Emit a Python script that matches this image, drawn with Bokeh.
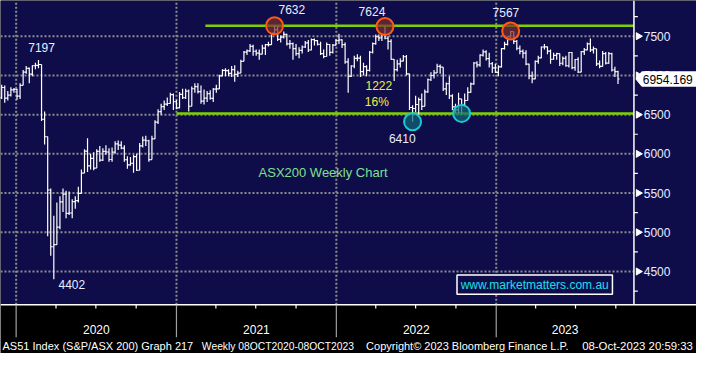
import numpy as np
import pandas as pd
from bokeh.plotting import figure
from bokeh.models import Range1d, ColumnDataSource
from bokeh.core.properties import value
from bokeh.embed import file_html
from bokeh.resources import INLINE

# ---------------- data (weekly bars, week ending Friday) ----------------
first_week = "2019-11-22"
last_week = "2023-10-06"

closes = [
    # 2019
    6717, 6846, 6711, 6750, 6816, 6821,
    # 2020
    6735, 6874, 7041, 7090, 7017, 7123, 7129, 7139, 6441, 6218, 5539, 4816, 4842,
    5067, 5387, 5487, 5242, 5246, 5391, 5405, 5497, 5755, 6036, 5847, 5942, 5819,
    6032, 5920, 6032, 6024, 5928, 6021, 6127, 6111, 6073, 5925, 5859, 5880, 5964,
    5791, 6102, 6176, 6167, 5927, 6190, 6405, 6539, 6601, 6635, 6642, 6756, 6664, 6587,
    # 2021
    6758, 6715, 6800, 6607, 6830, 6856, 6793, 6673, 6711, 6767, 6708, 6824, 6828,
    6995, 7063, 7061, 7025, 7073, 7014, 7030, 7179, 7296, 7312, 7369, 7308, 7285,
    7272, 7348, 7393, 7392, 7538, 7584, 7460, 7488, 7522, 7403, 7404, 7342, 7277,
    7320, 7362, 7415, 7324, 7457, 7443, 7397, 7279, 7241, 7394, 7293, 7387, 7444,
    # 2022
    7453, 7393, 7173, 6988, 7120, 7217, 7221, 7049, 7111, 7063, 7295, 7406, 7493,
    7478, 7523, 7474, 7435, 7205, 7075, 7146, 7182, 7238, 7020, 6591, 6578, 6629,
    6692, 6606, 6791, 6945, 6999, 7033, 7115, 7105, 6828, 6894, 6740, 6600, 6560,
    6700, 6620, 6680, 6785, 6893, 7158, 7135, 7259, 7301, 7213, 7149, 7095, 7039,
    # 2023
    7110, 7342, 7395, 7493, 7559, 7433, 7346, 7307, 7283, 7144, 6995, 6955, 7178,
    7223, 7362, 7365, 7309, 7206, 7256, 7279, 7155, 7217, 7123, 7292, 7099, 7203,
    7042, 7303, 7325, 7403, 7325, 7340, 7148, 7115, 7279, 7157, 7279, 7069, 7048, 6954,
]

highs = [
    6780, 6880, 6870, 6800, 6850, 6840,
    6830, 6900, 7070, 7120, 7100, 7130, 7160, 7197, 7140, 6540, 6220, 5560, 5210,
    5380, 5460, 5560, 5530, 5520, 5420, 5460, 5580, 5800, 6060, 6200, 6000, 6020,
    6060, 6100, 6070, 6110, 6070, 6080, 6160, 6170, 6160, 6110, 5970, 5960, 5990,
    6000, 6140, 6220, 6230, 6180, 6230, 6430, 6570, 6640, 6680, 6720, 6780, 6770, 6690,
    6790, 6830, 6830, 6820, 6860, 6900, 6900, 6870, 6820, 6800, 6810, 6840, 6880,
    7010, 7080, 7090, 7080, 7120, 7130, 7060, 7200, 7310, 7330, 7400, 7390, 7330,
    7330, 7390, 7400, 7430, 7540, 7632, 7630, 7510, 7560, 7530, 7450, 7420, 7400,
    7360, 7380, 7440, 7450, 7470, 7470, 7450, 7430, 7330, 7420, 7400, 7400, 7460,
    7530, 7460, 7420, 7220, 7130, 7250, 7270, 7250, 7160, 7130, 7310, 7420, 7520,
    7520, 7540, 7624, 7500, 7460, 7180, 7200, 7220, 7260, 7260, 7000, 6620, 6740,
    6720, 6770, 6820, 6960, 7040, 7070, 7150, 7140, 7100, 6910, 6990, 6760, 6640,
    6780, 6700, 6770, 6850, 6910, 7170, 7180, 7270, 7330, 7320, 7290, 7170, 7150,
    7130, 7350, 7430, 7500, 7567, 7560, 7450, 7380, 7330, 7320, 7150, 7050, 7190,
    7250, 7370, 7400, 7370, 7330, 7290, 7290, 7260, 7240, 7250, 7300, 7300, 7210,
    7230, 7310, 7350, 7420, 7470, 7370, 7340, 7190, 7310, 7300, 7300, 7290, 7110, 7060,
]

lows = [
    6690, 6700, 6650, 6680, 6730, 6780,
    6690, 6700, 6880, 7020, 6900, 6990, 7080, 7090, 6420, 6120, 4950, 4700, 4402,
    4950, 5040, 5260, 5180, 5220, 5180, 5300, 5380, 5500, 5760, 5770, 5800, 5790,
    5830, 5900, 5910, 5990, 5900, 5900, 6000, 6050, 6060, 5900, 5810, 5850, 5760,
    5780, 5800, 6080, 6100, 5900, 5930, 6190, 6380, 6500, 6560, 6610, 6640, 6560, 6570,
    6580, 6700, 6700, 6540, 6610, 6780, 6770, 6640, 6630, 6660, 6690, 6660, 6780,
    6830, 6990, 6990, 6990, 6980, 6920, 6980, 7040, 7180, 7260, 7300, 7250, 7250,
    7200, 7270, 7260, 7370, 7400, 7530, 7440, 7420, 7470, 7380, 7340, 7200, 7250,
    7220, 7280, 7350, 7300, 7320, 7380, 7380, 7260, 7220, 7240, 7250, 7280, 7380,
    7400, 7350, 7150, 6780, 6980, 7090, 7180, 6980, 7000, 6990, 7050, 7280, 7390,
    7440, 7440, 7460, 7330, 7200, 6930, 7050, 7100, 7180, 7000, 6560, 6410, 6530,
    6500, 6560, 6610, 6780, 6930, 6960, 7030, 7020, 6800, 6750, 6700, 6560, 6520,
    6520, 6516, 6600, 6680, 6780, 6880, 7100, 7110, 7240, 7190, 7100, 7030, 7030,
    6990, 7100, 7330, 7380, 7470, 7400, 7320, 7270, 7220, 7130, 6950, 6900, 6950,
    7150, 7220, 7330, 7270, 7150, 7200, 7200, 7120, 7130, 7110, 7100, 7080, 7060,
    7030, 7040, 7260, 7320, 7300, 7280, 7120, 7090, 7120, 7140, 7150, 7050, 6980, 6890,
]

last_price = 6954.169
axis_ticks = [4500, 5000, 5500, 6000, 6500, 7000, 7500]
years = [2020, 2021, 2022, 2023]

peak_dates = ["2021-08-13", "2022-04-22", "2023-02-03"]
peak_values = [7632, 7624, 7567]
trough_dates = ["2022-06-24", "2022-10-14"]
trough_values = [6410, 6516]
resistance = 7632
support = 6515

footer_texts = ["AS51 Index (S&P/ASX 200) Graph 217", "Weekly 08OCT2020-08OCT2023",
                "Copyright\u00a9 2023 Bloomberg Finance L.P.", "08-Oct-2023 20:59:33"]

# ---------------- geometry helpers ----------------
DAY = 86_400_000.0
NAVY = "#0f0c4a"
TXT = "#e8eeff"
GREEN = "#7fd000"
FONT = value("Liberation Sans")


def ms(d):
    return pd.Timestamp(d).value / 1e6


PXD = 365.25 / 163.67                     # days per reference pixel
X0 = ms("2020-01-01") - 16 * PXD * DAY
X1 = X0 + 712 * PXD * DAY
VPX = (7955.0 - 4077.0) / 318.0           # value per reference pixel
YT = 7955.0


def rx(px):
    return X0 + px * PXD * DAY


def ry(py):
    return YT - py * VPX


AXIS_X = rx(648)
PLOT_BOTTOM = ry(318)

dates = pd.date_range(first_week, last_week, freq="W-FRI")
xs = np.array([ms(d) for d in dates])
n = min(len(xs), len(closes), len(highs), len(lows))
xs = xs[:n]
c = np.array(closes[:n], dtype=float)
o = np.concatenate([[c[0]], c[:-1]])
h = np.maximum.reduce([np.array(highs[:n], float), o, c])
l = np.minimum.reduce([np.array(lows[:n], float), o, c])
half = 3.5 * DAY
src = ColumnDataSource(dict(x=xs, xl=xs - half, xr=xs + half, o=o, c=c, h=h, l=l))

p = figure(width=696, height=353, x_range=Range1d(X0, X1), y_range=Range1d(ry(369), ry(0)),
           x_axis_location=None, y_axis_location=None, toolbar_location=None,
           output_backend="svg", min_border=0,
           background_fill_color="black", border_fill_color="black",
           outline_line_color=None)
p.grid.visible = False

# navy plotting area
p.quad(left=X0, right=X1, bottom=PLOT_BOTTOM, top=ry(0), fill_color=NAVY, line_color=None)

# grid lines
for v in axis_ticks:
    p.segment(x0=X0, y0=v, x1=AXIS_X, y1=v, line_color="#8c8c8c", line_width=2, line_dash="2 2")
for yr in years:
    xv = ms(f"{yr}-01-01")
    p.segment(x0=xv, y0=PLOT_BOTTOM, x1=xv, y1=ry(0), line_color="#8c8c8c", line_width=2, line_dash="2 2")

# support / resistance
p.segment(x0=ms("2021-03-08"), y0=resistance, x1=AXIS_X, y1=resistance, line_color=GREEN, line_width=2.5)
p.segment(x0=ms("2021-01-01"), y0=support, x1=AXIS_X, y1=support, line_color=GREEN, line_width=2.5)

# OHLC bars
p.segment("x", "l", "x", "h", source=src, line_color="white", line_width=1.2)
p.segment("xl", "o", "x", "o", source=src, line_color="white", line_width=1.2)
p.segment("x", "c", "xr", "c", source=src, line_color="white", line_width=1.2)

# circles
p.scatter(x=[ms(d) for d in peak_dates], y=peak_values, size=17, marker="circle",
          fill_color="#7a2f30", fill_alpha=0.72, line_color="#ff5a14", line_width=2)
p.scatter(x=[ms(d) for d in trough_dates], y=trough_values, size=17, marker="circle",
          fill_color="#0e6878", fill_alpha=0.72, line_color="#19c8d2", line_width=2)

# right axis
p.segment(x0=AXIS_X, y0=PLOT_BOTTOM, x1=AXIS_X, y1=ry(0), line_color="white", line_width=1.5)
minor_vals = [v + 250 for v in [4000] + axis_ticks]
p.segment(x0=[AXIS_X] * len(minor_vals), y0=minor_vals, x1=[rx(652)] * len(minor_vals), y1=minor_vals,
          line_color="white", line_width=1.2)
p.scatter(x=[rx(652.5)] * len(axis_ticks), y=axis_ticks, marker="triangle", size=7, angle=-np.pi / 2,
          fill_color="white", line_color="white")
p.text(x=[rx(658)] * len(axis_ticks), y=axis_ticks, text=[str(v) for v in axis_ticks],
       text_font=FONT, text_font_size="12px", text_color=TXT,
       text_baseline="middle", text_align="left")

# last price tag
dy = 7.5 * VPX
p.patch(x=[rx(650), rx(656), rx(712), rx(712), rx(656)],
        y=[last_price, last_price + dy, last_price + dy, last_price - dy, last_price - dy],
        fill_color="white", line_color="white")
p.text(x=[rx(657)], y=[last_price], text=[f"{last_price:.3f}"], text_font=FONT,
       text_font_size="12px", text_color="black", text_baseline="middle", text_align="left")

# website box
p.quad(left=rx(467), right=rx(626), top=ry(287), bottom=ry(307),
       fill_color=NAVY, line_color="white", line_width=1.5)


def lab(x, y, text, color=TXT, size="12px", align="center"):
    p.text(x=[x], y=[y], text=[text], text_color=color, text_font_size=size,
           text_font=FONT, text_align=align, text_baseline="middle")


lab(rx(546.5), ry(297), "www.marketmatters.com.au", color="#19e0e8")

# annotations
lab(rx(298), ry(9), str(peak_values[0]))
lab(rx(380), ry(11), str(peak_values[1]))
lab(rx(517), ry(13), str(peak_values[2]))
lab(rx(411), ry(144), str(trough_values[0]))
lab(rx(42), ry(49), "7197")
lab(rx(73), ry(297), "4402")
lab(rx(387), ry(89), "1222", color="#f0f03a")
lab(rx(385), ry(106), "16%", color="#f0f03a")
lab(rx(330), ry(180), "ASX200 Weekly Chart", color="#7ee08a", size="13px")

# bottom time axis
p.segment(x0=X0, y0=PLOT_BOTTOM, x1=X1, y1=PLOT_BOTTOM, line_color="white", line_width=1.5)
year_x = [ms(f"{y}-01-01") for y in years]
p.segment(x0=year_x, y0=[PLOT_BOTTOM] * len(years), x1=year_x, y1=[ry(352)] * len(years),
          line_color="#a0a0a0", line_width=1.2)
q_x = [ms(f"{y}-{m:02d}-01") for y in years for m in (4, 7, 10)]
p.segment(x0=q_x, y0=[PLOT_BOTTOM] * len(q_x), x1=q_x, y1=[ry(322)] * len(q_x),
          line_color="white", line_width=1.2)
for yr in years:
    a = ms(f"{yr}-01-01")
    b = min(ms(f"{yr + 1}-01-01"), AXIS_X)
    lab((a + b) / 2, ry(344), str(yr), color="white")

footer_y = ry(361.5)
lab(rx(2), footer_y, footer_texts[0], color="white", size="11px", align="left")
lab(rx(206), footer_y, footer_texts[1], color="white", size="10.3px", align="left")
lab(rx(374), footer_y, footer_texts[2], color="white", size="11px", align="left")
lab(rx(595), footer_y, footer_texts[3], color="white", size="11.4px", align="left")

open("out.html", "w").write(file_html(p, INLINE))
